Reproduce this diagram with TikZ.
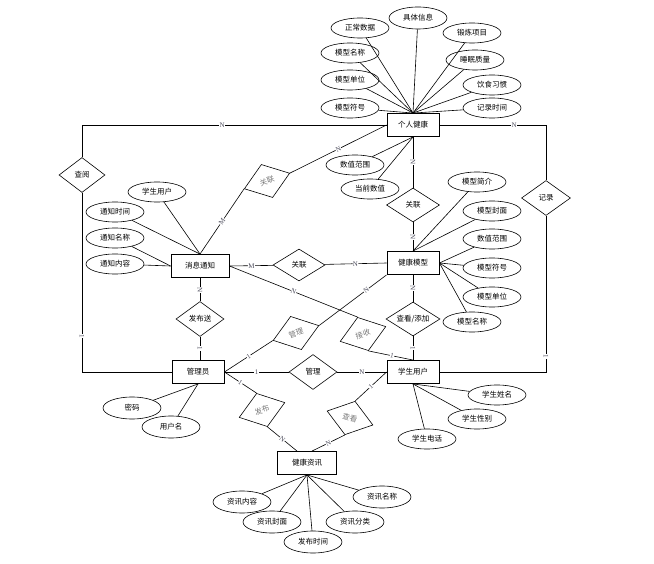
\documentclass[tikz,border=0pt]{standalone}
\usepackage{fontspec}
\setmainfont{Liberation Serif}
\newfontfamily\cjk{Noto Sans CJK SC}
\usepackage{tikz}
\usetikzlibrary{shapes.geometric}
\definecolor{tlbl}{HTML}{4A4A5A}
\definecolor{tgray}{HTML}{7A7A7A}

\begin{document}
\begin{tikzpicture}[x=1pt, y=-1pt, line width=0.6pt, font=\cjk\fontsize{7.5}{8}\selectfont,
  ent/.style={draw, line width=0.9pt, minimum width=52pt, minimum height=23pt, inner sep=1pt},
  attr/.style={draw, ellipse, minimum width=58pt, minimum height=20pt, inner sep=0pt},
  rel/.style={draw, diamond, aspect=1.4, minimum width=48pt, minimum height=35pt, inner sep=0pt},
  reltilt/.style={rel, text=tgray},
  lbl/.style={font=\fontsize{7}{7}\selectfont, text=tlbl, fill=white, inner sep=0.4pt, sloped}]
\useasboundingbox[fill=white] (0,0) rectangle (654,564);
% entities
\node[ent] (grjk) at (413,125) {个人健康};
\node[ent] (jkmx) at (413,263) {健康模型};
\node[ent, minimum width=58pt] (xxtz) at (200,266) {消息通知};
\node[ent] (gly) at (198,372) {管理员};
\node[ent] (xsyh) at (413,372) {学生用户};
\node[ent, minimum width=59pt] (jkzx) at (307,463) {健康资讯};
% relations
\node[rel, minimum width=46pt] (chayue) at (82,175) {查阅};
\node[rel, minimum width=49pt] (jilu) at (546,198) {记录};
\node[rel, minimum width=53pt, minimum height=34pt] (gl1) at (413,205) {关联};
\node[rel, minimum width=52pt, minimum height=32pt] (gl2) at (299,265) {关联};
\node[rel] (fbs) at (200,319) {发布送};
\node[rel, minimum width=54pt, minimum height=34pt] (cktj) at (413,319) {查看/添加};
\node[rel] (guanli) at (313,372) {管理};
\node[reltilt, rotate=19] (gl3) at (267,181) {关联};
\node[reltilt, rotate=18] (guanli2) at (296,333) {管理};
\node[reltilt, rotate=18] (jieshou) at (363,334) {接收};
\node[reltilt, rotate=18] (fabu) at (262,410) {发布};
\node[reltilt, rotate=-17] (chakan) at (350,418) {查看};
% attributes of 个人健康
\node[attr] (zcsj) at (360,28) {正常数据};
\node[attr, minimum height=22pt] (jtxx) at (418,18) {具体信息};
\node[attr] (dlxm) at (472,33) {锻炼项目};
\node[attr] (smzl) at (475,60) {睡眠质量};
\node[attr] (ysxg) at (492,85) {饮食习惯};
\node[attr] (jlsj) at (492,108) {记录时间};
\node[attr] (mxmc) at (350,53) {模型名称};
\node[attr] (mxdw) at (350,80) {模型单位};
\node[attr] (mxfh) at (350,108) {模型符号};
\node[attr] (szfw) at (355,165) {数值范围};
\node[attr] (dqsz) at (370,189) {当前数值};
% attributes of 健康模型
\node[attr] (mjj) at (477,182) {模型简介};
\node[attr] (mfm) at (492,211) {模型封面};
\node[attr] (mszfw) at (492,239) {数值范围};
\node[attr] (mfh) at (492,268) {模型符号};
\node[attr] (mdw) at (492,297) {模型单位};
\node[attr] (mmc) at (472,322) {模型名称};
% attributes of 消息通知
\node[attr] (tzyh) at (157,192) {学生用户};
\node[attr] (tzsj) at (115,212) {通知时间};
\node[attr] (tzmc) at (115,238) {通知名称};
\node[attr] (tznr) at (115,264) {通知内容};
% attributes of 管理员 / 学生用户
\node[attr, minimum height=22pt] (mima) at (132,408) {密码};
\node[attr, minimum height=22pt] (yhm) at (171,427) {用户名};
\node[attr] (xsxm) at (497,395) {学生姓名};
\node[attr] (xsxb) at (477,419) {学生性别};
\node[attr] (xsdh) at (427,439) {学生电话};
% attributes of 健康资讯
\node[attr, minimum height=22pt] (zxnr) at (242,502) {资讯内容};
\node[attr, minimum height=22pt] (zxfm) at (272,522) {资讯封面};
\node[attr, minimum height=22pt] (fbsj) at (313,542) {发布时间};
\node[attr, minimum height=22pt] (zxfl) at (355,522) {资讯分类};
\node[attr, minimum height=22pt] (zxmc) at (382,497) {资讯名称};
% attribute lines
\draw (zcsj) -- (grjk.north); \draw (jtxx) -- (grjk.north); \draw (dlxm) -- (grjk.north);
\draw (smzl) -- (grjk.north); \draw (ysxg) -- (grjk.north); \draw (jlsj) -- (grjk.north);
\draw (mxmc) -- (grjk.north); \draw (mxdw) -- (grjk.north); \draw (mxfh) -- (grjk.north);
\draw (szfw) -- (grjk.south); \draw (dqsz) -- (grjk.south);
\draw (mjj) -- (jkmx.north); \draw (mfm) -- (jkmx.north); \draw (mszfw) -- (jkmx.east);
\draw (mfh) -- (jkmx.east); \draw (mdw) -- (jkmx.east); \draw (mmc) -- (jkmx.east);
\draw (tzyh) -- (xxtz.north); \draw (tzsj) -- (xxtz.north); \draw (tzmc) -- (xxtz.west); \draw (tznr) -- (xxtz.west);
\draw (mima) -- (gly.south); \draw (yhm) -- (gly.south);
\draw (xsxm) -- (xsyh.south); \draw (xsxb) -- (xsyh.south); \draw (xsdh) -- (xsyh.south);
\draw (zxnr) -- (jkzx.south); \draw (zxfm) -- (jkzx.south); \draw (fbsj) -- (jkzx.south);
\draw (zxfl) -- (jkzx.south); \draw (zxmc) -- (jkzx.south);
% relation lines
\draw (grjk) -- node[lbl]{N} (gl1); \draw (gl1) -- node[lbl]{N} (jkmx);
\draw (xxtz.east) -- node[lbl]{M} (gl2); \draw (gl2) -- node[lbl]{N} (jkmx.west);
\draw (xxtz.north) -- node[lbl]{M} (gl3.west); \draw (gl3.east) -- node[lbl]{N} (grjk.west);
\draw (grjk.west) -| node[lbl, pos=0.27]{N} (chayue.north);
\draw (chayue.south) |- node[lbl, pos=0.4]{1} (gly.west);
\draw (grjk.east) -| node[lbl, pos=0.35]{N} (jilu.north);
\draw (jilu.south) |- node[lbl, pos=0.45]{1} (xsyh.east);
\draw (xxtz) -- node[lbl]{N} (fbs); \draw (fbs) -- node[lbl]{1} (gly.north -| fbs);
\draw (jkmx) -- node[lbl]{N} (cktj); \draw (cktj) -- node[lbl]{1} (xsyh);
\draw (gly.east) -- node[lbl]{1} (guanli); \draw (guanli) -- node[lbl]{N} (xsyh.west);
\draw (gly.east) -- node[lbl]{1} (guanli2.west); \draw (guanli2.east) -- node[lbl, pos=0.7]{N} (jkmx.south west);
\draw (xxtz.east) -- node[lbl]{N} (jieshou.north); \draw (jieshou.south) -- node[lbl, pos=0.53]{1} (xsyh.north);
\draw (gly.east) -- node[lbl]{1} (fabu.north); \draw (fabu.south) -- node[lbl]{N} ([xshift=-10pt]jkzx.north);
\draw (xsyh.west) -- node[lbl]{1} (chakan.north); \draw (chakan.south) -- node[lbl]{N} ([xshift=5pt]jkzx.north);
\end{tikzpicture}
\end{document}
